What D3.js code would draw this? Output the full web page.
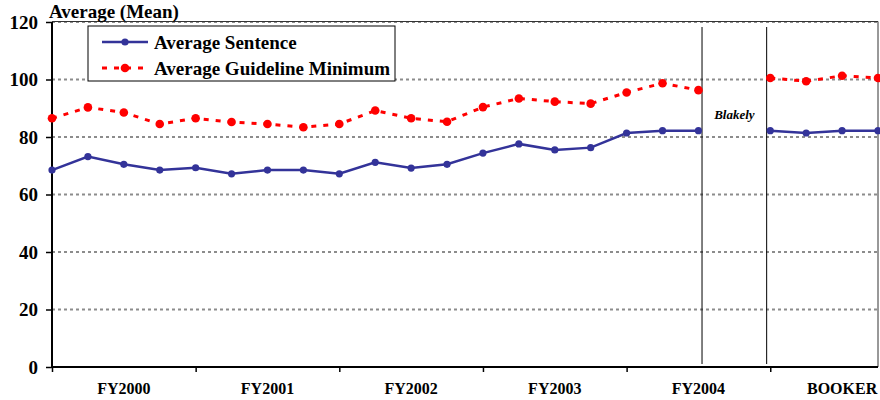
<!DOCTYPE html>
<html>
<head>
<meta charset="utf-8">
<script src="https://cdn.jsdelivr.net/npm/d3@7"></script>
<style>
  body { margin: 0; background: #fff; }
  svg text { font-family: "Liberation Serif", "DejaVu Serif", serif !important; }
</style>
</head>
<body>
<svg width="880" height="400"></svg>
<script>
  // quarterly points, index 19 is the Blakely gap
  const yearLabels = ['FY2000', 'FY2001', 'FY2002', 'FY2003', 'FY2004', 'BOOKER'];
  const yTicks = [0, 20, 40, 60, 80, 100, 120];
  const avgSentence = [68.5, 73.2, 70.5, 68.5, 69.3, 67.2, 68.5, 68.5, 67.2, 71.2, 69.2, 70.5,
    74.4, 77.6, 75.5, 76.3, 81.4, 82.2, 82.2, null, 82.2, 81.4, 82.2, 82.2];
  const avgGuideline = [86.5, 90.3, 88.5, 84.5, 86.5, 85.2, 84.5, 83.4, 84.5, 89.2, 86.5, 85.3,
    90.4, 93.4, 92.3, 91.6, 95.5, 98.7, 96.3, null, 100.5, 99.4, 101.3, 100.5];
  const seriesNames = ['Average Sentence', 'Average Guideline Minimum'];

  const svg = d3.select('svg');
  const margin = { top: 22, right: 2, bottom: 33, left: 52 };
  const width = +svg.attr('width');
  const height = +svg.attr('height');
  const innerWidth = width - margin.left - margin.right;
  const innerHeight = height - margin.top - margin.bottom;

  const g = svg.append('g')
    .attr('transform', `translate(${margin.left},${margin.top})`);

  const xScale = d3.scaleLinear()
    .domain([0, avgSentence.length - 1])
    .range([0, innerWidth]);

  const yScale = d3.scaleLinear()
    .domain([0, 120])
    .range([innerHeight, 0]);

  // gridlines
  g.append('g').selectAll('line').data(yTicks.filter(d => d > 0))
    .enter().append('line')
      .attr('x1', 0).attr('x2', innerWidth)
      .attr('y1', d => yScale(d)).attr('y2', d => yScale(d))
      .attr('stroke', '#8c8c8c')
      .attr('stroke-width', 2)
      .attr('stroke-dasharray', '3,3');

  // frame top + right
  g.append('path')
    .attr('d', `M0,${yScale(120) - 0.5}H${innerWidth}V${innerHeight}`)
    .attr('fill', 'none')
    .attr('stroke', '#333')
    .attr('stroke-width', 1);

  // y axis
  const yAxis = d3.axisLeft(yScale)
    .tickValues(yTicks)
    .tickSize(6)
    .tickPadding(8);
  const yAxisG = g.append('g').call(yAxis);
  yAxisG.select('.domain').attr('stroke-width', 2).attr('d', `M0,0V${innerHeight}`);
  yAxisG.selectAll('.tick line').attr('stroke-width', 1.5);
  yAxisG.selectAll('text')
    .attr('font-weight', 'bold')
    .attr('font-size', 19)
    .attr('fill', '#000');

  // x axis
  const xAxis = d3.axisBottom(xScale)
    .tickValues(d3.range(0, avgSentence.length, 4))
    .tickSize(5)
    .tickFormat('');
  const xAxisG = g.append('g')
    .attr('transform', `translate(0,${innerHeight})`)
    .call(xAxis);
  xAxisG.select('.domain').attr('stroke-width', 2).attr('d', `M0,0H${innerWidth}`);
  xAxisG.selectAll('.tick line').attr('stroke-width', 1.5);

  g.append('g').selectAll('text').data(yearLabels)
    .enter().append('text')
      .attr('x', (d, i) => xScale(i * 4 + 2))
      .attr('y', innerHeight + 27)
      .attr('text-anchor', 'middle')
      .attr('font-weight', 'bold')
      .attr('font-size', 16)
      .text(d => d);

  // Blakely separators
  g.append('g').selectAll('line').data([18.1, 19.9])
    .enter().append('line')
      .attr('x1', d => xScale(d)).attr('x2', d => xScale(d))
      .attr('y1', 5).attr('y2', innerHeight - 3)
      .attr('stroke', '#000')
      .attr('stroke-width', 1);

  g.append('text')
    .attr('x', xScale(19))
    .attr('y', 97)
    .attr('text-anchor', 'middle')
    .attr('font-weight', 'bold')
    .attr('font-style', 'italic')
    .attr('font-size', 13)
    .text('Blakely');

  const line = d3.line()
    .defined(d => d != null)
    .x((d, i) => xScale(i))
    .y(d => yScale(d));

  const series = [
    { values: avgGuideline, color: '#ff0000', width: 3, dash: '5,7', r: 4.3 },
    { values: avgSentence, color: '#333399', width: 2.5, dash: null, r: 3.6 }
  ];

  series.forEach(s => {
    g.append('path')
      .datum(s.values)
      .attr('d', line)
      .attr('fill', 'none')
      .attr('stroke', s.color)
      .attr('stroke-width', s.width)
      .attr('stroke-dasharray', s.dash);

    g.append('g').selectAll('circle')
      .data(s.values.map((v, i) => ({ v, i })).filter(d => d.v != null))
      .enter().append('circle')
        .attr('cx', d => xScale(d.i))
        .attr('cy', d => yScale(d.v))
        .attr('r', s.r)
        .attr('fill', s.color);
  });

  // title
  svg.append('text')
    .attr('x', 49)
    .attr('y', 18)
    .attr('font-weight', 'bold')
    .attr('font-size', 19)
    .text('Average (Mean)');

  // legend
  const legend = svg.append('g').attr('transform', 'translate(88,26)');
  legend.append('rect')
    .attr('width', 307).attr('height', 55)
    .attr('fill', '#fff')
    .attr('stroke', '#000')
    .attr('stroke-width', 1);

  const legendItems = [
    { name: seriesNames[0], color: '#333399', width: 2.5, dash: null, r: 3.6 },
    { name: seriesNames[1], color: '#ff0000', width: 3, dash: '5,7', r: 4.3 }
  ];
  const item = legend.selectAll('.item').data(legendItems)
    .enter().append('g')
      .attr('class', 'item')
      .attr('transform', (d, i) => `translate(0,${16 + i * 26})`);
  item.append('line')
    .attr('x1', 14).attr('x2', 60)
    .attr('stroke', d => d.color)
    .attr('stroke-width', d => d.width)
    .attr('stroke-dasharray', d => d.dash);
  item.append('circle')
    .attr('cx', 37).attr('r', d => d.r)
    .attr('fill', d => d.color);
  item.append('text')
    .attr('x', 66)
    .attr('dy', '0.35em')
    .attr('font-weight', 'bold')
    .attr('font-size', 19)
    .text(d => d.name);
</script>
</body>
</html>
